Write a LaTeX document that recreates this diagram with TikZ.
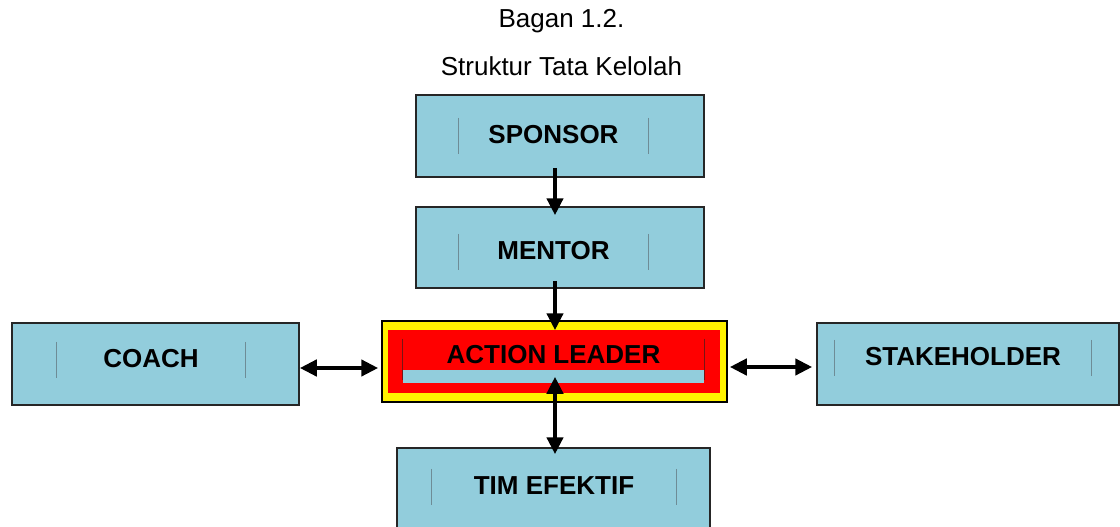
\documentclass[tikz,border=0pt]{standalone}
\usepackage{fontspec}
\setmainfont{Liberation Sans}
\usetikzlibrary{arrows.meta}
\definecolor{cardblue}{RGB}{146,205,220}
\definecolor{tickgray}{RGB}{110,140,150}
\definecolor{leadline}{RGB}{120,20,20}

\begin{document}
\begin{tikzpicture}[x=1pt, y=-1pt, >={Triangle[length=17pt,width=16pt]}]
\tikzset{
  card/.style = {rectangle, draw=black!85, line width=1.5pt, fill=cardblue, minimum height=82pt, inner sep=0pt},
  frame/.style = {rectangle, inner sep=0pt, minimum height=36pt, text height=16pt, text depth=2pt, font=\bfseries\fontsize{26}{30}\selectfont},
  tick/.style = {draw=tickgray, line width=0.8pt},
  heading/.style = {anchor=base, font=\fontsize{26}{30}\selectfont},
  oneway/.style = {line width=4.3pt, ->},
  twoway/.style = {line width=4.3pt, <->}
}
\useasboundingbox (0,0) rectangle (1120,527);

% Title
\node[heading] (title) at (561.5,28) {Bagan 1.2.};
\node[heading] (subtitle) at (561.5,76) {Struktur Tata Kelolah};

% Boxes
\node[card, minimum width=288pt] (sponsor) at (560,136) {};
\node[frame, minimum width=189pt] (sponsortxt) at (553.5,136) {SPONSOR};

\node[card, minimum width=288pt, minimum height=81pt] (mentor) at (560,247.5) {};
\node[frame, minimum width=189pt] (mentortxt) at (553.5,252) {MENTOR};

\node[card, minimum width=287pt] (coach) at (155.5,364) {};
\node[frame, minimum width=188pt] (coachtxt) at (151,360) {COACH};

\node[card, minimum width=302pt] (stake) at (968,364) {};
\node[frame, minimum width=256pt] (staketxt) at (963,358) {STAKEHOLDER};

\node[card, minimum width=313pt] (tim) at (553.5,489) {};
\node[frame, minimum width=244pt] (timtxt) at (554,487) {TIM EFEKTIF};

% Action leader (yellow frame, red core, blue strip)
\node[card, fill=yellow, draw=black, minimum width=345pt, minimum height=81pt] (leader) at (554.5,361.5) {};
\fill[red] (388,330) rectangle (720,393);
\fill[cardblue] (403,370) rectangle (704,383);
\node[frame, minimum width=301pt, minimum height=41pt, text height=12pt, text depth=5pt] (leadertxt) at (553.5,359.5) {ACTION LEADER};

% Text frame sides
\draw[tick] (sponsortxt.north west) -- (sponsortxt.south west) (sponsortxt.north east) -- (sponsortxt.south east);
\draw[tick] (mentortxt.north west) -- (mentortxt.south west) (mentortxt.north east) -- (mentortxt.south east);
\draw[tick] (coachtxt.north west) -- (coachtxt.south west) (coachtxt.north east) -- (coachtxt.south east);
\draw[tick] (staketxt.north west) -- (staketxt.south west) (staketxt.north east) -- (staketxt.south east);
\draw[tick] (timtxt.north west) -- (timtxt.south west) (timtxt.north east) -- (timtxt.south east);
\draw[tick, draw=leadline] (leadertxt.north west) -- (leadertxt.south west) (leadertxt.north east) -- (leadertxt.south east);

% Edges
\draw[oneway] ([xshift=-5pt,yshift=10pt]sponsor.south) -- ([xshift=-5pt,yshift=-9pt]mentor.north);
\draw[oneway] ([xshift=-5pt,yshift=8pt]mentor.south) -- ([xshift=0.5pt,yshift=-10pt]leader.north);
\draw[twoway] ([yshift=-4pt]coach.east) -- ([xshift=-3pt,yshift=-6.5pt]leader.west);
\draw[twoway] ([xshift=2pt,yshift=-5.5pt]leader.east) -- ([xshift=-4pt,yshift=-3pt]stake.west);
\draw[twoway] ([xshift=0.5pt,yshift=26pt]leader.south) -- ([xshift=1.5pt,yshift=-7pt]tim.north);

\end{tikzpicture}
\end{document}
